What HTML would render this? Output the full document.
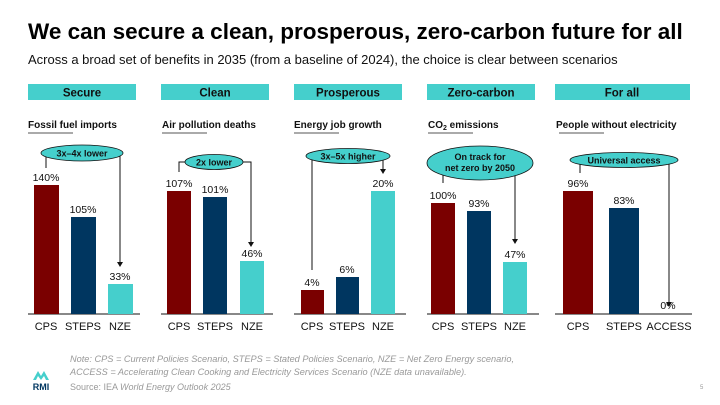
<!DOCTYPE html><html><head><meta charset="utf-8"><style>body{margin:0;background:#fff}svg{display:block}text{font-family:"Liberation Sans",sans-serif}</style></head><body>
<svg width="720" height="405" viewBox="0 0 720 405" xmlns="http://www.w3.org/2000/svg">
<text x="28" y="39" font-size="22.5" font-weight="bold" fill="#000">We can secure a clean, prosperous, zero-carbon future for all</text>
<text x="28" y="64" font-size="13" fill="#111">Across a broad set of benefits in 2035 (from a baseline of 2024), the choice is clear between scenarios</text>
<g font-size="11.5" font-weight="bold" fill="#111" text-anchor="middle">
<rect x="28" y="84" width="108" height="16" fill="#45cfcc"/><text x="82" y="96.5">Secure</text>
<rect x="161" y="84" width="108" height="16" fill="#45cfcc"/><text x="215" y="96.5">Clean</text>
<rect x="294" y="84" width="108" height="16" fill="#45cfcc"/><text x="348" y="96.5">Prosperous</text>
<rect x="427" y="84" width="108" height="16" fill="#45cfcc"/><text x="481" y="96.5">Zero-carbon</text>
<rect x="555" y="84" width="135" height="16" fill="#45cfcc"/><text x="622" y="96.5">For all</text>
</g>
<g font-size="10" font-weight="bold" fill="#111">
<text x="28" y="128">Fossil fuel imports</text><text x="162" y="128">Air pollution deaths</text><text x="294" y="128">Energy job growth</text><text x="428" y="128">CO<tspan font-size="7" dy="2">2</tspan><tspan dy="-2"> emissions</tspan></text><text x="556" y="128">People without electricity</text>
</g>
<g fill="#aaa"><rect x="28" y="132" width="45" height="2"/><rect x="162" y="132" width="45" height="2"/><rect x="294" y="132" width="45" height="2"/><rect x="428" y="132" width="45" height="2"/><rect x="559" y="132" width="45" height="2"/></g>
<g stroke="#111" stroke-width="1"><line x1="28" y1="314" x2="140" y2="314"/><line x1="161" y1="314" x2="273" y2="314"/><line x1="294" y1="314" x2="406" y2="314"/><line x1="427" y1="314" x2="539" y2="314"/><line x1="555" y1="314" x2="692" y2="314"/></g>
<g>
<rect x="34" y="185" width="25" height="129" fill="#7a0000"/><rect x="71" y="217" width="25" height="97" fill="#003660"/><rect x="108" y="284" width="25" height="30" fill="#45cfcc"/>
<rect x="167" y="191" width="24" height="123" fill="#7a0000"/><rect x="203" y="197" width="24" height="117" fill="#003660"/><rect x="240" y="261" width="24" height="53" fill="#45cfcc"/>
<rect x="301" y="290" width="23" height="24" fill="#7a0000"/><rect x="336" y="277" width="23" height="37" fill="#003660"/><rect x="371" y="191" width="24" height="123" fill="#45cfcc"/>
<rect x="431" y="203" width="24" height="111" fill="#7a0000"/><rect x="467" y="211" width="24" height="103" fill="#003660"/><rect x="503" y="262" width="24" height="52" fill="#45cfcc"/>
<rect x="563" y="191" width="30" height="123" fill="#7a0000"/><rect x="609" y="208" width="30" height="106" fill="#003660"/>
</g>
<g font-size="10.5" fill="#111" text-anchor="middle">
<text x="46" y="181">140%</text><text x="83" y="213">105%</text><text x="120" y="280">33%</text>
<text x="179" y="187">107%</text><text x="215" y="193">101%</text><text x="252" y="257">46%</text>
<text x="312" y="286">4%</text><text x="347" y="273">6%</text><text x="383" y="187">20%</text>
<text x="443" y="199">100%</text><text x="479" y="207">93%</text><text x="515" y="258">47%</text>
<text x="578" y="187">96%</text><text x="624" y="204">83%</text><text x="668" y="309">0%</text>
</g>
<g font-size="11" fill="#111" text-anchor="middle">
<text x="46" y="330">CPS</text><text x="83" y="330">STEPS</text><text x="120" y="330">NZE</text>
<text x="179" y="330">CPS</text><text x="215" y="330">STEPS</text><text x="252" y="330">NZE</text>
<text x="312" y="330">CPS</text><text x="347" y="330">STEPS</text><text x="383" y="330">NZE</text>
<text x="443" y="330">CPS</text><text x="479" y="330">STEPS</text><text x="515" y="330">NZE</text>
<text x="578" y="330">CPS</text><text x="624" y="330">STEPS</text><text x="669" y="330">ACCESS</text>
</g>
<g stroke="#111" stroke-width="1" fill="none">
<polyline points="46,168 46,153 120,153 120,262"/>
<polyline points="179,172 179,162 251,162 251,242"/>
<polyline points="312,270 312,156 383,156 383,169"/>
<polyline points="443,183 443,163 515,163 515,239"/>
<polyline points="580,173 580,160 669,160 669,302"/>
</g>
<g fill="#111">
<path d="M117,262h6l-3,5z"/><path d="M248,242h6l-3,5z"/><path d="M380,169h6l-3,5z"/><path d="M512,239h6l-3,5z"/><path d="M666,302h6l-3,5z"/>
</g>
<g fill="#45cfcc" stroke="#111" stroke-width="0.8">
<ellipse cx="82" cy="153" rx="41" ry="8"/><ellipse cx="214" cy="162" rx="29" ry="7.5"/><ellipse cx="348" cy="156" rx="42" ry="7.5"/><ellipse cx="480" cy="163" rx="53" ry="17"/><ellipse cx="624" cy="160" rx="54" ry="7.5"/>
</g>
<g font-size="9" font-weight="bold" fill="#111" text-anchor="middle">
<text x="82" y="156.5">3x–4x lower</text><text x="214" y="165.5">2x lower</text><text x="348" y="159.5">3x–5x higher</text><text x="480" y="160">On track for</text><text x="480" y="171">net zero by 2050</text><text x="624" y="163.5">Universal access</text>
</g>
<g font-size="9.2" fill="#999" font-style="italic"><text x="70" y="362">Note: CPS = Current Policies Scenario, STEPS = Stated Policies Scenario, NZE = Net Zero Energy scenario,</text><text x="70" y="375">ACCESS = Accelerating Clean Cooking and Electricity Services Scenario (NZE data unavailable).</text></g>
<text x="70" y="390" font-size="9" fill="#999">Source: IEA <tspan font-style="italic">World Energy Outlook 2025</tspan></text>
<text x="700" y="389" font-size="6" fill="#999">5</text>
<path d="M33,380 L38,371 L41,376 L44,371 L49,380 L46,380 L44,376 L41,380 L38,376 L36,380z" fill="#45cfcc"/>
<text x="41" y="390" font-size="9" font-weight="bold" fill="#003660" text-anchor="middle">RMI</text>
</svg></body></html>
